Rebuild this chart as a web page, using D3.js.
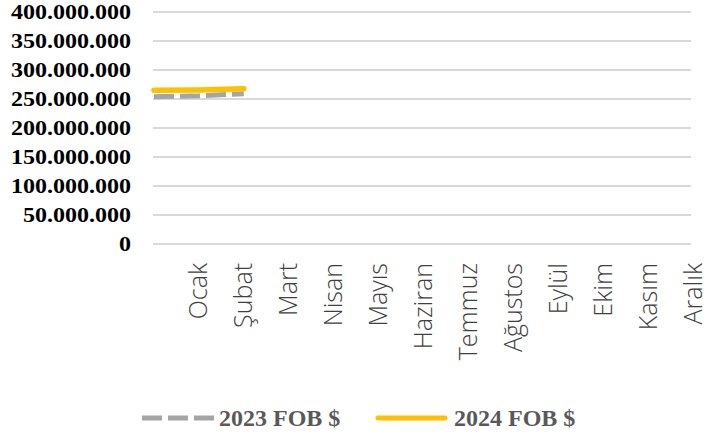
<!DOCTYPE html>
<html>
<head>
<meta charset="utf-8">
<script src="https://cdn.jsdelivr.net/npm/d3@7"></script>
<style>
  html, body { margin: 0; padding: 0; background: #fff; }
  svg { display: block; }
</style>
</head>
<body>
<svg id="chart" width="705" height="437"></svg>
<script>
// ---- data ----
const categories = ["", "Ocak", "Şubat", "Mart", "Nisan", "Mayıs", "Haziran", "Temmuz", "Ağustos", "Eylül", "Ekim", "Kasım", "Aralık"];
const series2023 = [254000000, 255500000, 259000000];
const series2024 = [265000000, 265500000, 267500000];
const seriesNames = ["2023 FOB $", "2024 FOB $"];
const yTicks = [0, 50000000, 100000000, 150000000, 200000000, 250000000, 300000000, 350000000, 400000000];

const svg = d3.select("#chart");
const fmt = v => d3.format(",")(v).replace(/,/g, ".");

const x = d3.scalePoint().domain(categories).range([154, 693]);
const y = d3.scaleLinear().domain([0, 400000000]).range([244, 12]);

// gridlines
svg.append("g").selectAll("line").data(yTicks).join("line")
  .attr("x1", 153).attr("x2", 691)
  .attr("y1", d => y(d)).attr("y2", d => y(d))
  .attr("stroke", "#d9d9d9").attr("stroke-width", 2);

// y labels
svg.append("g").selectAll("text").data(yTicks).join("text")
  .attr("transform", d => `translate(131,${y(d)}) scale(1.2,1)`)
  .attr("text-anchor", "end")
  .attr("dominant-baseline", "central")
  .attr("font-family", "'Liberation Serif', 'Times New Roman', serif")
  .attr("font-weight", "bold")
  .attr("font-size", 20)
  .attr("fill", "#000")
  .text(d => fmt(d));

// x labels
svg.append("g").selectAll("text").data(categories.filter(c => c !== "")).join("text")
  .attr("transform", d => `translate(${x(d) - 1.5},263) rotate(-90)`)
  .attr("text-anchor", "end")
  .attr("dominant-baseline", "central")
  .attr("font-family", "'Open Sans', 'Noto Sans', sans-serif")
  .attr("font-weight", 300)
  .attr("font-size", 25)
  .attr("fill", "#404040")
  .text(d => d);

// lines
const line = d3.line().x((d, i) => x(categories[i])).y(d => y(d));
svg.append("path").datum(series2023)
  .attr("d", line).attr("fill", "none")
  .attr("stroke", "#a5a5a5").attr("stroke-width", 5)
  .attr("stroke-dasharray", "20,6");
svg.append("path").datum(series2024)
  .attr("d", line).attr("fill", "none")
  .attr("stroke", "#ffc000").attr("stroke-width", 5.5)
  .attr("stroke-linecap", "round");

// legend
const legend = [
  {name: seriesNames[0], color: "#a5a5a5", dash: "20,6", x1: 142, x2: 216, tx: 219, cap: "butt"},
  {name: seriesNames[1], color: "#ffc000", dash: null, x1: 378, x2: 445, tx: 454, cap: "round"}
];
const lg = svg.append("g");
legend.forEach(l => {
  lg.append("line").attr("x1", l.x1).attr("x2", l.x2).attr("y1", 418).attr("y2", 418)
    .attr("stroke", l.color).attr("stroke-width", 5)
    .attr("stroke-linecap", l.cap)
    .attr("stroke-dasharray", l.dash);
  lg.append("text").attr("x", l.tx).attr("y", 418)
    .attr("dominant-baseline", "central")
    .attr("font-family", "'Liberation Serif', 'Times New Roman', serif")
    .attr("font-weight", "bold").attr("font-size", 24)
    .attr("fill", "#595959")
    .text(l.name);
});
</script>
</body>
</html>
